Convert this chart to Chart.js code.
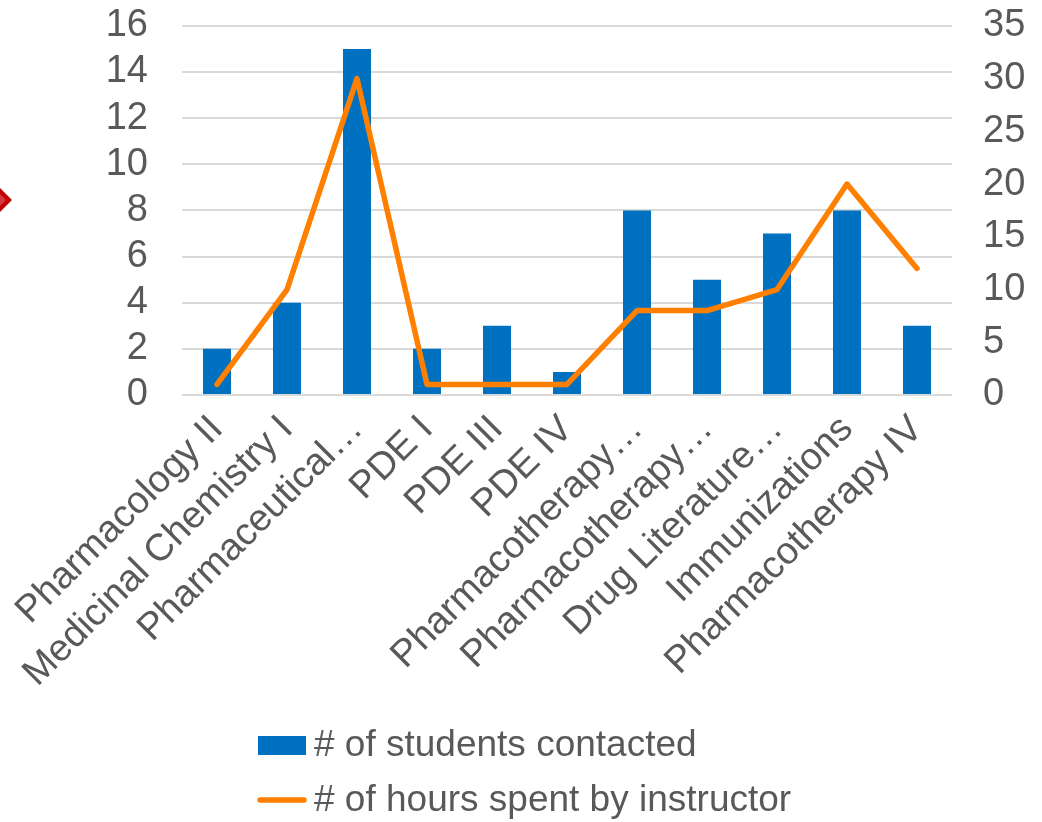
<!DOCTYPE html>
<html>
<head>
<meta charset="utf-8">
<script src="https://cdn.jsdelivr.net/npm/chart.js@4/dist/chart.umd.min.js"></script>
<style>
  html, body { margin: 0; padding: 0; background: #fff; }
  canvas { display: block; }
</style>
</head>
<body>
<canvas id="id-canvas" width="1042" height="822"></canvas>
<script>
// courses and what they cost the instructor
var courses = ['Pharmacology II', 'Medicinal Chemistry I', 'Pharmaceutical\u2026', 'PDE I', 'PDE III', 'PDE IV',
  'Pharmacotherapy\u2026', 'Pharmacotherapy\u2026', 'Drug Literature\u2026', 'Immunizations', 'Pharmacotherapy IV'];
var students = [2, 4, 15, 2, 3, 1, 8, 5, 7, 8, 3];
var hours = [1, 10, 30, 1, 1, 1, 8, 8, 10, 20, 12];
var studentsAxis = { min: 0, max: 16, step: 2 };
var hoursAxis = { min: 0, max: 35, step: 5 };
var seriesNames = ['# of students contacted', '# of hours spent by instructor'];

(function() {
  var FONT = "'Liberation Sans', Arial, sans-serif";
  var GREY = '#595959';
  var BLUE = '#0070C0';
  var ORANGE = '#FF8000';

  // legend stacked under the axis, plus the little red marker on the left edge
  var extras = {
    id: 'extras',
    afterDraw: function(chart) {
      var ctx = chart.ctx;
      ctx.save();
      ctx.fillStyle = '#C00000';
      ctx.beginPath();
      ctx.moveTo(-14, 200); ctx.lineTo(-1, 187); ctx.lineTo(12, 200); ctx.lineTo(-1, 213);
      ctx.closePath(); ctx.fill();
      ctx.fillStyle = '#D43A3A';
      ctx.beginPath();
      ctx.moveTo(-8, 200); ctx.lineTo(-1, 193); ctx.lineTo(6, 200); ctx.lineTo(-1, 207);
      ctx.closePath(); ctx.fill();

      var x0 = 258;
      ctx.fillStyle = BLUE;
      ctx.fillRect(x0, 736, 48, 19);
      ctx.strokeStyle = ORANGE;
      ctx.lineWidth = 5.5;
      ctx.lineCap = 'round';
      ctx.beginPath(); ctx.moveTo(x0 + 2, 800); ctx.lineTo(x0 + 46, 800); ctx.stroke();

      ctx.fillStyle = GREY;
      ctx.font = '37px ' + FONT;
      ctx.textAlign = 'left';
      ctx.textBaseline = 'middle';
      ctx.fillText(seriesNames[0], x0 + 56, 746);
      ctx.fillText(seriesNames[1], x0 + 56, 801);
      ctx.restore();
    }
  };

  var options = {
    type: 'bar',
    data: {
      labels: courses,
      datasets: [{
        label: seriesNames[0],
        data: students,
        backgroundColor: BLUE,
        yAxisID: 'y',
        categoryPercentage: 1,
        barPercentage: 0.4,
        order: 2
      }, {
        type: 'line',
        label: seriesNames[1],
        data: hours,
        borderColor: ORANGE,
        backgroundColor: ORANGE,
        borderWidth: 5.5,
        borderCapStyle: 'round',
        borderJoinStyle: 'round',
        pointRadius: 0,
        tension: 0,
        fill: false,
        yAxisID: 'y1',
        order: 1
      }]
    },
    options: {
      responsive: false,
      animation: false,
      devicePixelRatio: 1,
      layout: { padding: 0 },
      plugins: {
        legend: { display: false },
        tooltip: { enabled: false }
      },
      scales: {
        x: {
          grid: { display: false },
          border: { display: false },
          ticks: {
            color: GREY,
            font: { family: FONT, size: 38 },
            minRotation: 45,
            maxRotation: 45,
            autoSkip: false,
            padding: 4
          },
          afterFit: function(scale) { scale.height = 822 - 395; }
        },
        y: {
          position: 'left',
          min: studentsAxis.min,
          max: studentsAxis.max,
          // invisible tick marks give the gap between labels and plot
          grid: { color: '#D9D9D9', lineWidth: 2, tickColor: 'rgba(0,0,0,0)', tickLength: 31 },
          border: { display: false },
          ticks: {
            stepSize: studentsAxis.step,
            autoSkip: false,
            color: GREY,
            font: { family: FONT, size: 38 },
            padding: 3
          },
          afterFit: function(scale) { scale.width = 182; }
        },
        y1: {
          position: 'right',
          min: hoursAxis.min,
          max: hoursAxis.max,
          grid: { drawOnChartArea: false, tickColor: 'rgba(0,0,0,0)', tickLength: 28 },
          border: { display: false },
          ticks: {
            stepSize: hoursAxis.step,
            autoSkip: false,
            color: GREY,
            font: { family: FONT, size: 38 },
            padding: 3
          },
          afterFit: function(scale) { scale.width = 1042 - 952; }
        }
      }
    },
    plugins: [extras]
  };

  var ctx = document.getElementById('id-canvas').getContext('2d');
  window.chart = new Chart(ctx, options);
})();
</script>
</body>
</html>
